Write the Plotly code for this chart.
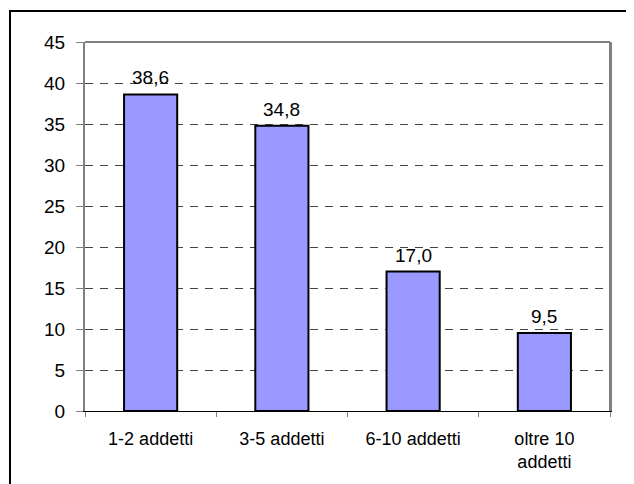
import plotly.graph_objects as go

categories = ["1-2 addetti", "3-5 addetti", "6-10 addetti", "oltre 10<br>addetti"]
values = [38.6, 34.8, 17.0, 9.5]
y_ticks = [0, 5, 10, 15, 20, 25, 30, 35, 40, 45]

FONT = "Liberation Sans, Arial, sans-serif"
# page body has an 8px margin; size the figure so the plot lands where the reference has it
OFF = 8
W, H = 634 - OFF, 484 - OFF
L, T = 85 - OFF, 42 - OFF
R = W - (610 - OFF)
B = H - (411 - OFF)

fig = go.Figure()
fig.add_trace(go.Bar(
    x=categories, y=values,
    marker=dict(color="#9999FF", line=dict(color="black", width=2)),
    width=0.405,
    hoverinfo="skip",
))

for c, v in zip(categories, values):
    fig.add_annotation(
        x=c, y=v, text=f"{v:.1f}".replace(".", ","),
        showarrow=False, yanchor="bottom", yshift=4,
        font=dict(family=FONT, size=19, color="black"),
    )

pw = W - L - R
ph = H - T - B
fig.add_shape(
    type="rect", xref="paper", yref="paper",
    x0=(10 - OFF - L) / pw, x1=(W + 30 - L) / pw,
    y0=-(H + 30 - (H - B)) / ph, y1=((H - B) - (11 - OFF)) / ph,
    line=dict(color="black", width=2), fillcolor="rgba(0,0,0,0)",
    layer="above",
)

fig.update_layout(
    width=W, height=H,
    margin=dict(l=L, r=R, t=T, b=B),
    paper_bgcolor="white", plot_bgcolor="white",
    showlegend=False,
    font=dict(family=FONT, size=18, color="black"),
    xaxis=dict(
        type="category", tickson="boundaries", ticks="outside", ticklen=5,
        tickcolor="#808080", showline=True, linecolor="#000000", linewidth=1,
        mirror=False, showgrid=False, tickfont=dict(size=18),
        ticklabelstandoff=11,
    ),
    yaxis=dict(
        range=[0, 45], tickvals=y_ticks, ticks="outside", ticklen=7,
        tickcolor="#808080", showline=True, linecolor="#808080", linewidth=2,
        mirror=True, showgrid=True, gridcolor="#444444", gridwidth=1,
        griddash="8px,7px", zeroline=False, tickfont=dict(size=19),
        ticklabelstandoff=7,
    ),
)
fig.add_shape(type="line", xref="paper", yref="paper", x0=1, x1=1, y0=0, y1=1,
              line=dict(color="#808080", width=2))
fig.add_shape(type="line", xref="paper", yref="paper", x0=0, x1=1, y0=1, y1=1,
              line=dict(color="#808080", width=2))

fig.write_html("out.html")
